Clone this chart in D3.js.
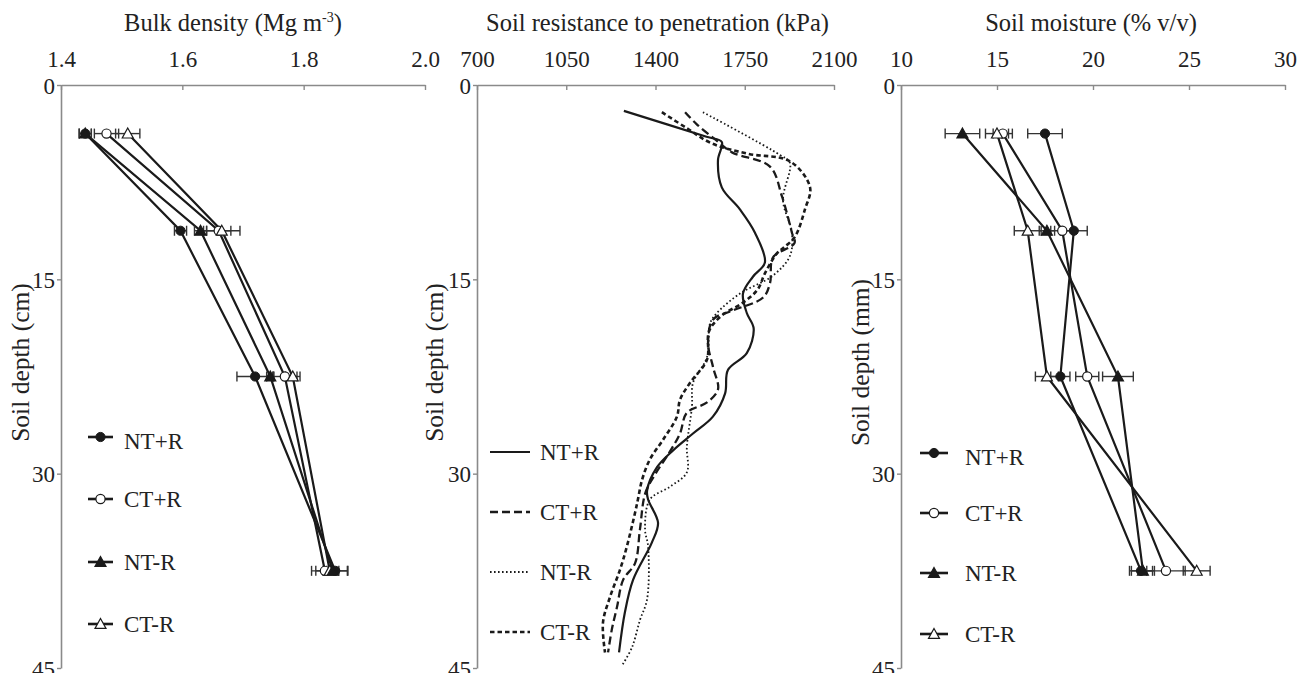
<!DOCTYPE html>
<html><head><meta charset="utf-8">
<script src="https://cdn.jsdelivr.net/npm/d3@7"></script>
<style>body{margin:0;background:#fff}svg{display:block}text{font-family:"Liberation Serif","Times New Roman",serif;fill:#222}</style>
</head><body><svg id="c" width="1304" height="673"></svg>
<script>
// ---------- data ----------
const depths = [3.75, 11.25, 22.5, 37.5];
const series = ["NT+R", "CT+R", "NT-R", "CT-R"];
// bulk density (Mg m-3)
const bdNTpR = [1.44, 1.597, 1.72, 1.852];
const bdCTpR = [1.475, 1.66, 1.769, 1.835];
const bdNTmR = [1.44, 1.63, 1.745, 1.848];
const bdCTmR = [1.51, 1.665, 1.782, 1.843];
const bdErrNTpR = [0.01, 0.01, 0.03, 0.02];
const bdErrCTpR = [0.02, 0.02, 0.02, 0.015];
const bdErrNTmR = [0.01, 0.01, 0.006, 0.01];
const bdErrCTmR = [0.02, 0.03, 0.012, 0.03];
// soil moisture (% v/v)
const smNTpR = [17.5, 19.0, 18.3, 22.5];
const smCTpR = [15.3, 18.4, 19.7, 23.8];
const smNTmR = [13.2, 17.6, 21.3, 22.6];
const smCTmR = [15.0, 16.6, 17.6, 25.4];
const smErrNTpR = [0.9, 0.7, 0.5, 0.6];
const smErrCTpR = [0.5, 0.6, 0.6, 1.0];
const smErrNTmR = [0.9, 0.4, 0.8, 0.6];
const smErrCTmR = [0.6, 0.7, 0.6, 0.7];
// penetration resistance profiles (depth cm, kPa)
const prNTpRDepth = [2.0,4.0,4.4,5.8,7.9,9.6,11.4,13.7,14.8,16.1,17.6,18.8,20.7,22.0,23.8,25.6,26.9,28.2,29.5,31.3,32.0,33.8,35.3,38.2,40.7,43.8];
const prNTpR      = [1276,1600,1660,1645,1660,1731,1790,1829,1782,1743,1758,1785,1758,1684,1673,1625,1547,1469,1406,1367,1371,1410,1386,1312,1280,1257];
const prCTpRDepth = [2.1,3.0,4.3,5.2,6.3,8.6,11.4,12.2,13.3,15.3,16.4,17.4,18.1,19.9,21.8,23.5,24.5,25.3,26.9,28.5,30.0,31.5,34.3,36.9,38.2,40.3,42.0,43.8];
const prCTpR      = [1516,1560,1640,1700,1849,1896,1935,1945,1861,1849,1822,1704,1626,1606,1626,1645,1602,1523,1496,1450,1400,1360,1339,1320,1273,1249,1229,1214];
const prNTmRDepth = [2.1,5.4,6.0,8.9,11.4,13.2,14.7,16.1,17.6,18.4,21.0,23.0,24.8,27.9,29.9,31.0,32.0,34.3,35.6,39.7,41.3,43.4,44.8];
const prNTmR      = [1586,1888,1927,1900,1935,1927,1861,1731,1641,1614,1602,1547,1543,1523,1523,1457,1378,1359,1371,1367,1339,1308,1269];
const prCTmRDepth = [2.1,3.3,4.5,5.3,5.9,7.9,9.6,11.7,12.6,13.0,14.5,15.8,16.8,17.8,19.0,21.2,23.0,24.3,25.6,27.4,28.9,30.5,32.0,33.0,35.6,37.4,39.5,41.5,43.8];
const prCTmR      = [1425,1520,1620,1760,1928,2006,1986,1947,1900,1876,1830,1800,1743,1660,1610,1602,1535,1496,1484,1429,1378,1347,1331,1320,1288,1261,1222,1194,1202];
const depthTicks = [0, 15, 30, 45];
const bdTicks = [1.4, 1.6, 1.8, 2.0];
const prTicks = [700, 1050, 1400, 1750, 2100];
const smTicks = [10, 15, 20, 25, 30];

// ---------- drawing ----------
const svg = d3.select("#c");
const y = d3.scaleLinear().domain([0, 45]).range([85, 668]);
const axisCol = "#8a8a8a", ink = "#1a1a1a";
const FS_TICK = 23, FS_TITLE = 24.5, FS_YT = 25.5, FS_LEG = 23;

function frame(x, ticks, fmt, title, ytitle, ytx, titleShift) {
  const g = svg.append("g");
  const ax = g.append("g").attr("transform", `translate(0,${y(0)})`)
    .call(d3.axisTop(x).tickValues(ticks).tickFormat(fmt).tickSizeInner(-5).tickSizeOuter(0).tickPadding(18));
  const ay = g.append("g").attr("transform", `translate(${x.range()[0]},0)`)
    .call(d3.axisLeft(y).tickValues(depthTicks).tickFormat(d3.format("d")).tickSizeInner(4).tickSizeOuter(0).tickPadding(2));
  [ax, ay].forEach(a => {
    a.select(".domain").attr("stroke", axisCol).attr("stroke-width", 1.6);
    a.selectAll(".tick line").attr("stroke", axisCol).attr("stroke-width", 1.4);
    a.selectAll(".tick text").attr("font-size", FS_TICK).attr("fill", "#222").attr("font-family", "Liberation Serif");
  });
  ay.selectAll(".tick text").attr("dy", "0.36em");
  const t = g.append("text").attr("x", (x.range()[0] + x.range()[1]) / 2 + titleShift).attr("y", 31)
    .attr("text-anchor", "middle").attr("font-size", FS_TITLE);
  title(t);
  g.append("text").attr("transform", `translate(${ytx},${y(22.5) - 14}) rotate(-90)`)
    .attr("text-anchor", "middle").attr("font-size", FS_YT).text(ytitle);
  return g;
}

function marker(g, type, cx, cy) {
  if (type === "NT+R") g.append("circle").attr("cx", cx).attr("cy", cy).attr("r", 4.6).attr("fill", ink).attr("stroke", ink);
  else if (type === "CT+R") g.append("circle").attr("cx", cx).attr("cy", cy).attr("r", 4.6).attr("fill", "#fff").attr("stroke", ink).attr("stroke-width", 1.2);
  else {
    const s = 5.5;
    g.append("path").attr("d", `M${cx},${cy - s}L${cx + s},${cy + s * 0.8}L${cx - s},${cy + s * 0.8}Z`)
      .attr("fill", type === "NT-R" ? ink : "#fff").attr("stroke", ink).attr("stroke-width", 1.2);
  }
}

function pointPanel(x, vals, errs, order) {
  const g = svg.append("g");
  const line = d3.line().x(d => x(d[1])).y(d => y(d[0]));
  series.forEach((s, i) => {
    g.append("path").datum(depths.map((d, j) => [d, vals[i][j]])).attr("d", line)
      .attr("fill", "none").attr("stroke", ink).attr("stroke-width", 2.2);
  });
  series.forEach((s, i) => {
    depths.forEach((d, j) => {
      const x0 = x(vals[i][j] - errs[i][j]), x1 = x(vals[i][j] + errs[i][j]), cy = y(d);
      g.append("line").attr("x1", x0).attr("x2", x1).attr("y1", cy).attr("y2", cy).attr("stroke", "#333").attr("stroke-width", 1.4);
      [x0, x1].forEach(xx => g.append("line").attr("x1", xx).attr("x2", xx).attr("y1", cy - 5).attr("y2", cy + 5).attr("stroke", "#333").attr("stroke-width", 1.4));
    });
  });
  order.forEach(i => depths.forEach((d, j) => marker(g, series[i], x(vals[i][j]), y(d))));
}

function pointLegend(x0, x1, tx, ys) {
  const g = svg.append("g");
  series.forEach((s, i) => {
    g.append("line").attr("x1", x0).attr("x2", x1).attr("y1", ys[i]).attr("y2", ys[i]).attr("stroke", ink).attr("stroke-width", 2.6);
    marker(g, s, (x0 + x1) / 2, ys[i]);
    g.append("text").attr("x", tx).attr("y", ys[i] + (i === 0 ? 12 : 8)).attr("font-size", FS_LEG).text(s);
  });
}

// Panel 1: bulk density
const xBD = d3.scaleLinear().domain([1.4, 2.0]).range([61, 425]);
frame(xBD, bdTicks, d3.format(".1f"), t => { t.append("tspan").text("Bulk density (Mg m"); t.append("tspan").attr("dy", -9).attr("font-size", 14).text("-3"); t.append("tspan").attr("dy", 9).text(")"); }, "Soil depth (cm)", 29, -10);
pointPanel(xBD, [bdNTpR, bdCTpR, bdNTmR, bdCTmR], [bdErrNTpR, bdErrCTpR, bdErrNTmR, bdErrCTmR], [0, 1, 3, 2]);
pointLegend(88, 113, 124, [437, 499, 562, 624]);

// Panel 2: penetration resistance
const xPR = d3.scaleLinear().domain([700, 2100]).range([477, 834]);
frame(xPR, prTicks, d3.format("d"), t => t.text("Soil resistance to penetration (kPa)"), "Soil depth (cm)", 443, 2);
const prLine = d3.line().x(d => xPR(d[1])).y(d => y(d[0])).curve(d3.curveCatmullRom.alpha(0.5));
const prSets = [
  {d: prNTpRDepth, v: prNTpR, dash: null, w: 2.2},
  {d: prCTpRDepth, v: prCTpR, dash: "8,4", w: 2.3},
  {d: prNTmRDepth, v: prNTmR, dash: "1.6,2.4", w: 1.8},
  {d: prCTmRDepth, v: prCTmR, dash: "4.5,3", w: 2.6}
];
const g2 = svg.append("g");
prSets.forEach(s => {
  g2.append("path").datum(s.d.map((d, i) => [d, s.v[i]])).attr("d", prLine)
    .attr("fill", "none").attr("stroke", ink).attr("stroke-width", s.w).attr("stroke-dasharray", s.dash);
});
const prLegY = [452, 512, 572, 632];
series.forEach((s, i) => {
  g2.append("line").attr("x1", 490).attr("x2", 530).attr("y1", prLegY[i]).attr("y2", prLegY[i])
    .attr("stroke", ink).attr("stroke-width", prSets[i].w).attr("stroke-dasharray", prSets[i].dash);
  g2.append("text").attr("x", 540).attr("y", prLegY[i] + 8).attr("font-size", FS_LEG).text(s);
});

// Panel 3: soil moisture
const xSM = d3.scaleLinear().domain([10, 30]).range([901, 1285]);
frame(xSM, smTicks, d3.format("d"), t => t.text("Soil moisture (% v/v)"), "Soil depth (mm)", 869, -2);
pointPanel(xSM, [smNTpR, smCTpR, smNTmR, smCTmR], [smErrNTpR, smErrCTpR, smErrNTmR, smErrCTmR], [0, 1, 3, 2]);
pointLegend(920, 948, 965, [453, 513, 573, 634]);
</script></body></html>
